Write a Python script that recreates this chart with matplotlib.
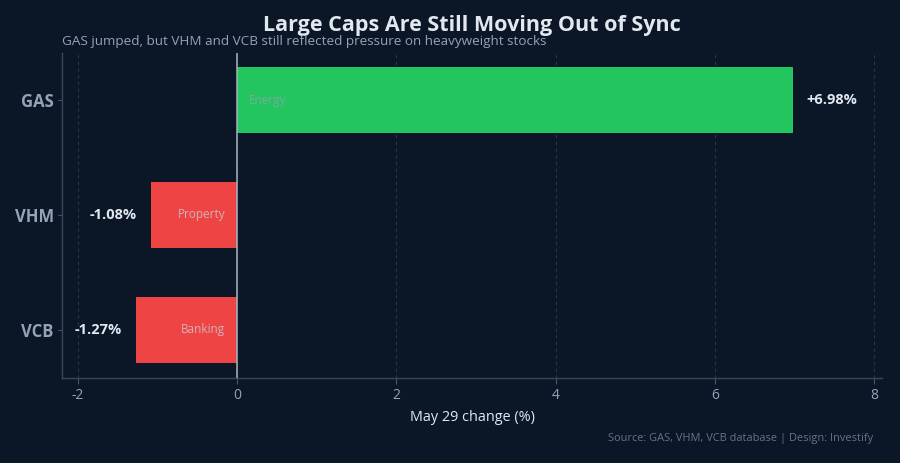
import matplotlib
matplotlib.use("Agg")
import matplotlib.pyplot as plt

tickers = ["GAS", "VHM", "VCB"]
changes = [6.98, -1.08, -1.27]
sectors = ["Energy", "Property", "Banking"]
value_labels = ["+6.98%", "-1.08%", "-1.27%"]
xticks = [-2, 0, 2, 4, 6, 8]

BG = "#0b1627"
GREEN = "#22c55e"
RED = "#ef4444"
TXT = "#e2e8f0"
MUTED = "#94a3b8"

plt.rcParams['font.family'] = ['Open Sans', 'Noto Sans', 'DejaVu Sans']

fig = plt.figure(figsize=(9, 4.63), dpi=100, facecolor=BG)
ax = fig.add_axes([62/900, 85/463, 820/900, 325/463], facecolor=BG)

ypos = list(range(len(tickers)))
colors = [GREEN if v >= 0 else RED for v in changes]
ax.barh(ypos, changes, height=0.575, color=colors, zorder=3)

ax.set_xlim(-2.2, 8.1)
ax.set_ylim(2.42, -0.41)
ax.set_xticks(xticks)
ax.set_xticklabels([str(t) for t in xticks])
ax.set_yticks(ypos)
ax.set_yticklabels(tickers, fontsize=12, fontweight='bold', color=MUTED)
ax.tick_params(axis='x', colors=MUTED, labelsize=10, length=4, color="#475569", pad=3)
ax.tick_params(axis='y', length=3, color="#475569", pad=3)
for lab in ax.get_xticklabels():
    lab.set_color(MUTED)

ax.grid(axis='x', color="#2a3648", linestyle=(0, (3, 3)), linewidth=0.8, zorder=0)
ax.axvline(0, color="#a8b3c2", linewidth=1.1, zorder=4)

for s in ['top', 'right']:
    ax.spines[s].set_visible(False)
for s in ['left', 'bottom']:
    ax.spines[s].set_color("#3b4657")
    ax.spines[s].set_linewidth(1)

trans_off = 14 / 79.6
inner_off = 12 / 79.6
for y, v, sec, lab in zip(ypos, changes, sectors, value_labels):
    if v >= 0:
        ax.text(v + trans_off, y, lab, ha='left', va='center', color=TXT,
                fontsize=10.5, fontweight='bold', zorder=5)
        ax.text(inner_off, y, sec, ha='left', va='center', color="#94a3b8",
                alpha=0.75, fontsize=8.5, zorder=5)
    else:
        ax.text(v - trans_off, y, lab, ha='right', va='center', color=TXT,
                fontsize=10.5, fontweight='bold', zorder=5)
        ax.text(-inner_off, y, sec, ha='right', va='center', color="#cbd5e1",
                alpha=0.75, fontsize=8.5, zorder=5)

ax.set_xlabel("May 29 change (%)", color=TXT, fontsize=10.4, labelpad=5)

fig.text(472/900, 1 - 26/463, "Large Caps Are Still Moving Out of Sync", ha='center',
         va='center', color=TXT, fontsize=15.5, fontweight='bold')
fig.text(62/900, 1 - 42/463, "GAS jumped, but VHM and VCB still reflected pressure on heavyweight stocks",
         ha='left', va='center', color=MUTED, fontsize=9.7)
fig.text(873/900, 1 - 438/463, "Source: GAS, VHM, VCB database | Design: Investify",
         ha='right', va='center', color="#64748b", fontsize=7.9)

fig.savefig("out.png", dpi=100, facecolor=BG)
